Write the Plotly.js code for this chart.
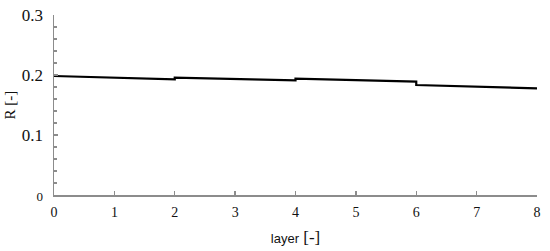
<!DOCTYPE html>
<html>
<head>
<meta charset="utf-8">
<script src="https://cdn.plot.ly/plotly-3.0.1.min.js"></script>
<style>html,body{margin:0;padding:0;background:#fff;}#chart{width:550px;height:251px;}</style>
</head>
<body>
<div id="chart"></div>
<script>
const layerX = [0, 2, 2, 4, 4, 6, 6, 8];
const rValues = [0.1983, 0.1928, 0.1955, 0.1911, 0.1939, 0.1889, 0.1833, 0.1778];
const yTickVals = [0, 0.1, 0.2, 0.3];
const yTickText = ['<span style="font-size:13px">0</span>', '0.1', '0.2', '0.3'];
const xTickVals = [0, 1, 2, 3, 4, 5, 6, 7, 8];
const xTickText = ['0', '1', '2', '3', '4', '5', '6', '7', '8'];

const serif = 'Liberation Serif';
const axisGray = '#8c8c8c';

Plotly.newPlot('chart', [{
  x: layerX, y: rValues, type: 'scatter', mode: 'lines',
  line: {color: '#000', width: 2.2}, hoverinfo: 'skip'
}], {
  width: 550, height: 251,
  font: {family: serif, size: 14, color: '#111'},
  margin: {l: 54, r: 13, t: 15, b: 56},
  paper_bgcolor: '#fff', plot_bgcolor: '#fff',
  showlegend: false,
  xaxis: {
    range: [0, 8], tickmode: 'array', tickvals: xTickVals, ticktext: xTickText,
    ticks: 'inside', ticklen: 4, tickcolor: axisGray, tickwidth: 1.3,
    showline: true, linecolor: axisGray, linewidth: 1.5,
    showgrid: false, zeroline: false, ticklabelstandoff: 4,
    tickfont: {family: serif, size: 14, color: '#111'},
    title: {text: '<span style="font-family:Liberation Sans;font-size:13px">layer</span> [-]',
      font: {family: serif, size: 17, color: '#111'}, standoff: 12}
  },
  yaxis: {
    range: [0, 0.3], tickmode: 'array', tickvals: yTickVals, ticktext: yTickText,
    ticks: 'inside', ticklen: 4, tickcolor: axisGray, tickwidth: 1.3,
    minor: {dtick: 0.02, ticks: 'inside', ticklen: 3, tickcolor: axisGray, tickwidth: 1.2, showgrid: false},
    showline: true, linecolor: axisGray, linewidth: 1.5,
    showgrid: false, zeroline: false, ticklabelstandoff: 6,
    tickfont: {family: serif, size: 17, color: '#111'},
    title: {text: 'R [-]', font: {family: serif, size: 15, color: '#111'}, standoff: 2}
  }
}, {staticPlot: true, displayModeBar: false});
</script>
</body>
</html>
